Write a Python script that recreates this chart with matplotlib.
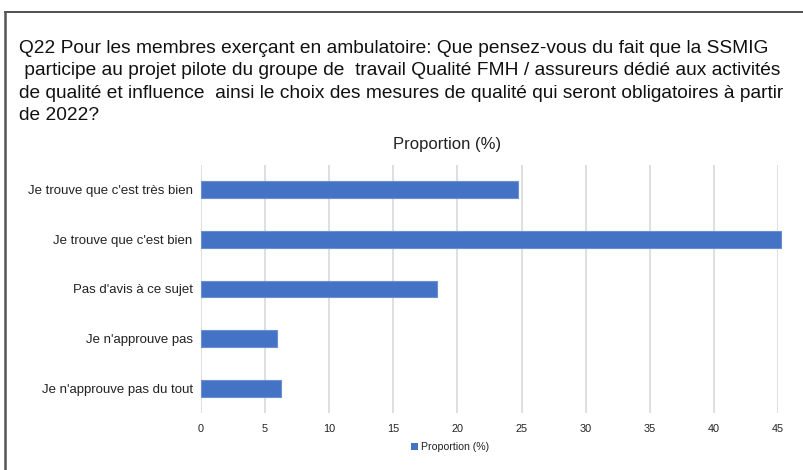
import matplotlib
matplotlib.use("Agg")
import matplotlib.pyplot as plt
from matplotlib.lines import Line2D
from matplotlib.patches import Patch

categories = ["Je trouve que c'est très bien", "Je trouve que c'est bien",
              "Pas d'avis à ce sujet", "Je n'approuve pas", "Je n'approuve pas du tout"]
values = [24.7, 45.2, 18.4, 5.9, 6.25]
xticks = [0, 5, 10, 15, 20, 25, 30, 35, 40, 45]
series_name = "Proportion (%)"
title = ("Q22 Pour les membres exerçant en ambulatoire: Que pensez-vous du fait que la SSMIG\n"
         " participe au projet pilote du groupe de  travail Qualité FMH / assureurs dédié aux activités\n"
         "de qualité et influence  ainsi le choix des mesures de qualité qui seront obligatoires à partir\n"
         "de 2022?")

W, H = 804, 470
fig = plt.figure(figsize=(W/100, H/100), dpi=100)
fig.patch.set_facecolor("white")

# frame lines (top and left)
fig.add_artist(Line2D([5/W, 803/W], [1-12/H, 1-12/H], color="#333333", lw=1.2))
fig.add_artist(Line2D([5/W, 5/W], [1-12/H, 0], color="#555555", lw=1.8))

fig.text(19/W, 1-40/H, title, ha="left", va="top", fontsize=13.75,
         family=["Liberation Sans Narrow", "Liberation Sans", "DejaVu Sans"],
         color="#111111", linespacing=1.42)

ax_left, ax_right = 201, 778
ax_top, ax_bot = 165, 413
ax = fig.add_axes([ax_left/W, 1-ax_bot/H, (ax_right-ax_left)/W, (ax_bot-ax_top)/H])
ypos = list(range(len(categories)))
ax.barh(ypos, values, height=0.34, color="#4472c4", edgecolor="#6b8fd1",
        linewidth=0.8, clip_on=False, zorder=3, label=series_name)
ax.set_ylim(len(categories)-0.5, -0.5)
ax.set_xlim(0, 45)
ax.set_xticks(xticks)
ax.set_xticklabels([str(t) for t in xticks], family="Liberation Sans", fontsize=7.8, color="#222222")
ax.set_yticks(ypos)
ax.set_yticklabels(categories, family="Liberation Sans", fontsize=9.5, color="#222222")
ax.tick_params(axis="both", length=0, pad=6)
ax.tick_params(axis="x", pad=8)
ax.grid(axis="x", color="#d9d9d9", lw=1.2, zorder=0)
for s in ax.spines.values():
    s.set_visible(False)

fig.text(447/W, 1-144/H, "Proportion (%)", ha="center", va="center",
         family="Liberation Sans", fontsize=12, color="#222222")

leg = fig.legend(handles=[Patch(facecolor="#4472c4", edgecolor="none", label=series_name)],
                 loc="center", bbox_to_anchor=(450/W, 1-447/H), frameon=False,
                 prop={"family": "Liberation Sans", "size": 7.6},
                 handlelength=0.6, handleheight=0.6, handletextpad=0.3)
for t in leg.get_texts():
    t.set_color("#222222")

fig.savefig("out.png", dpi=100)
